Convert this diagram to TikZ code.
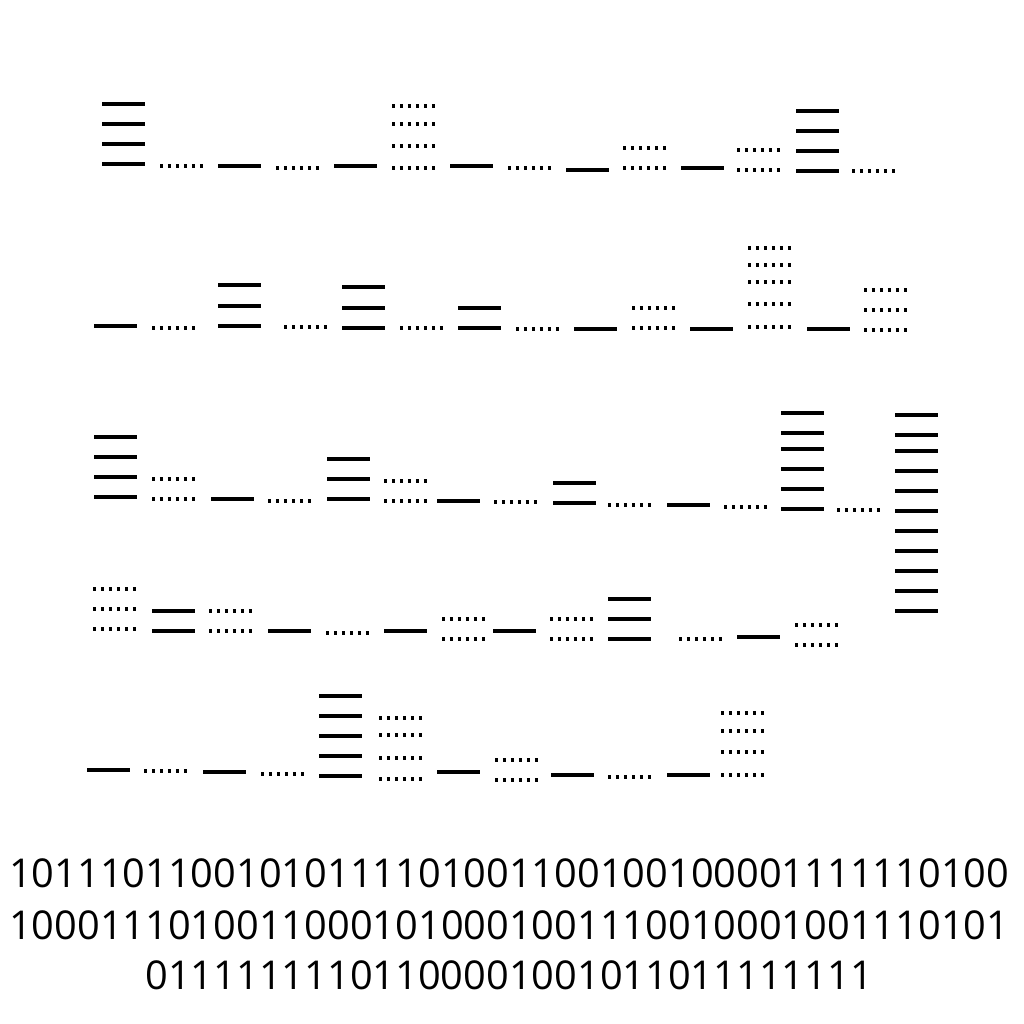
\documentclass[tikz,border=0pt]{standalone}
\usepackage{fontspec}
\setmainfont{Open Sans}

\begin{document}
\begin{tikzpicture}[x=0.01cm,y=-0.01cm,
	one/.style={line width=1pt},
	zero/.style={line width=0.95pt,dash pattern=on 0.95pt off 1.32pt},
	bits/.style={font=\fontsize{11.3}{14}\selectfont}]
	\useasboundingbox (0,0) rectangle (1024,1024);
	% first row
	\draw[one] foreach \y in {104,124,144,164} {(102,\y) -- ++(43,0)};
	\draw[zero] (160,166) -- ++(43,0);
	\draw[one] (218,166) -- ++(43,0);
	\draw[zero] (276,168) -- ++(43,0);
	\draw[one] (334,166) -- ++(43,0);
	\draw[zero] foreach \y in {106,124,146,168} {(392,\y) -- ++(43,0)};
	\draw[one] (450,166) -- ++(43,0);
	\draw[zero] (508,168) -- ++(43,0);
	\draw[one] (566,170) -- ++(43,0);
	\draw[zero] foreach \y in {148,168} {(623,\y) -- ++(43,0)};
	\draw[one] (681,168) -- ++(43,0);
	\draw[zero] foreach \y in {150,170} {(737,\y) -- ++(43,0)};
	\draw[one] foreach \y in {111,131,151,171} {(796,\y) -- ++(43,0)};
	\draw[zero] (852,171) -- ++(43,0);
	% second row
	\draw[one] (94,326) -- ++(43,0);
	\draw[zero] (152,328) -- ++(43,0);
	\draw[one] foreach \y in {285,306,326} {(218,\y) -- ++(43,0)};
	\draw[zero] (284,327) -- ++(43,0);
	\draw[one] foreach \y in {287,308,328} {(342,\y) -- ++(43,0)};
	\draw[zero] (400,328) -- ++(43,0);
	\draw[one] foreach \y in {308,328} {(458,\y) -- ++(43,0)};
	\draw[zero] (516,329) -- ++(43,0);
	\draw[one] (574,329) -- ++(43,0);
	\draw[zero] foreach \y in {308,328} {(632,\y) -- ++(43,0)};
	\draw[one] (690,329) -- ++(43,0);
	\draw[zero] foreach \y in {248,265,282,304,327} {(748,\y) -- ++(43,0)};
	\draw[one] (807,329) -- ++(43,0);
	\draw[zero] foreach \y in {290,310,330} {(864,\y) -- ++(43,0)};
	% third row
	\draw[one] foreach \y in {437,457,477,497} {(94,\y) -- ++(43,0)};
	\draw[zero] foreach \y in {479,499} {(152,\y) -- ++(43,0)};
	\draw[one] (211,499) -- ++(43,0);
	\draw[zero] (268,501) -- ++(43,0);
	\draw[one] foreach \y in {459,479,499} {(327,\y) -- ++(43,0)};
	\draw[zero] foreach \y in {481,501} {(384,\y) -- ++(43,0)};
	\draw[one] (437,501) -- ++(43,0);
	\draw[zero] (494,502) -- ++(43,0);
	\draw[one] foreach \y in {483,503} {(553,\y) -- ++(43,0)};
	\draw[zero] (608,505) -- ++(43,0);
	\draw[one] (667,505) -- ++(43,0);
	\draw[zero] (724,507) -- ++(43,0);
	\draw[one] foreach \y in {413,433,449,469,489,509} {(781,\y) -- ++(43,0)};
	\draw[zero] (837,510) -- ++(43,0);
	\draw[one] foreach \y in {415,435,451,471,491,511,531,551,571,591,611} {(895,\y) -- ++(43,0)};
	% fourth row
	\draw[zero] foreach \y in {589,609,629} {(93,\y) -- ++(43,0)};
	\draw[one] foreach \y in {611,631} {(152,\y) -- ++(43,0)};
	\draw[zero] foreach \y in {611,631} {(209,\y) -- ++(43,0)};
	\draw[one] (268,631) -- ++(43,0);
	\draw[zero] (326,633) -- ++(43,0);
	\draw[one] (384,631) -- ++(43,0);
	\draw[zero] foreach \y in {619,639} {(442,\y) -- ++(43,0)};
	\draw[one] (493,631) -- ++(43,0);
	\draw[zero] foreach \y in {619,639} {(550,\y) -- ++(43,0)};
	\draw[one] foreach \y in {599,619,639} {(608,\y) -- ++(43,0)};
	\draw[zero] (679,639) -- ++(43,0);
	\draw[one] (737,637) -- ++(43,0);
	\draw[zero] foreach \y in {625,645} {(795,\y) -- ++(43,0)};
	% fifth row
	\draw[one] (87,770) -- ++(43,0);
	\draw[zero] (144,771) -- ++(43,0);
	\draw[one] (203,772) -- ++(43,0);
	\draw[zero] (261,774) -- ++(43,0);
	\draw[one] foreach \y in {696,716,736,756,776} {(319,\y) -- ++(43,0)};
	\draw[zero] foreach \y in {718,735,758,779} {(379,\y) -- ++(43,0)};
	\draw[one] (437,772) -- ++(43,0);
	\draw[zero] foreach \y in {760,780} {(495,\y) -- ++(43,0)};
	\draw[one] (551,775) -- ++(43,0);
	\draw[zero] (608,777) -- ++(43,0);
	\draw[one] (667,775) -- ++(43,0);
	\draw[zero] foreach \y in {713,731,752,775} {(721,\y) -- ++(43,0)};
	% the bit string
	\node[bits] (line1) at (509,873) {10111011001010111101001100100100001111110100};
	\node[bits] (line2) at (509,925) {10001110100110001010001001110010001001110101};
	\node[bits] (line3) at (509,975) {01111111101100001001011011111111};
\end{tikzpicture}
\end{document}
